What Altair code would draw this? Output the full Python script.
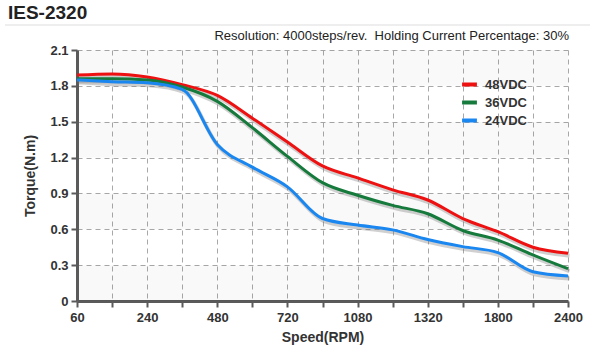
import altair as alt
import pandas as pd

# Speed tick positions (grid index) and labels
speed_labels = ["60", "", "240", "", "480", "", "720", "", "1080", "", "1320", "", "1800", "", "2400"]
idx = list(range(15))

v48 = [1.89, 1.90, 1.875, 1.81, 1.72, 1.53, 1.33, 1.13, 1.03, 0.93, 0.845, 0.69, 0.58, 0.45, 0.40]
v36 = [1.86, 1.86, 1.85, 1.79, 1.67, 1.45, 1.21, 0.99, 0.885, 0.80, 0.73, 0.59, 0.51, 0.385, 0.27]
v24 = [1.85, 1.835, 1.825, 1.77, 1.31, 1.12, 0.955, 0.69, 0.635, 0.595, 0.515, 0.455, 0.405, 0.245, 0.21]

series = ["48VDC", "36VDC", "24VDC"]
colors = ["#ee1111", "#167a3c", "#1a86f0"]

torque_ticks = [0, 0.3, 0.6, 0.9, 1.2, 1.5, 1.8, 2.1]
band_lo = [0.0, 0.6, 1.2, 1.8]

rows = []
for name, vals in zip(series, [v48, v36, v24]):
    for i, v in zip(idx, vals):
        rows.append({"idx": i, "torque": v, "series": name})
df = pd.DataFrame(rows)

bands = pd.DataFrame({"lo": band_lo, "hi": [b + 0.3 for b in band_lo]})

label_expr = "[" + ",".join("'%s'" % s for s in speed_labels) + "][datum.value]"

xscale = alt.Scale(domain=[0, 14], nice=False, zero=False)
yscale = alt.Scale(domain=[0, 2.1], nice=False)

base_font = "Liberation Sans"

xaxis = alt.Axis(
    values=idx, labelExpr=label_expr, title="Speed(RPM)",
    grid=True, gridDash=[5, 4], gridColor="#a8a8a8", gridWidth=1,
    domainColor="#5a5a5a", domainWidth=3, tickColor="#5a5a5a", tickWidth=2, tickSize=6,
    labelFont=base_font, labelFontSize=13, labelFontWeight="bold", labelColor="#333333",
    labelPadding=4, titleFont=base_font, titleFontSize=14, titleFontWeight="bold",
    titleColor="#333333", titlePadding=6, labelFlush=False, labelOverlap=False,
)
yaxis = alt.Axis(
    values=torque_ticks, labelExpr="datum.value == 0 ? '0' : format(datum.value, '.1f')",
    title="Torque(N.m)",
    grid=True, gridDash=[5, 4], gridColor="#a8a8a8", gridWidth=1,
    domainColor="#5a5a5a", domainWidth=3, tickColor="#5a5a5a", tickWidth=2, tickSize=6,
    labelFont=base_font, labelFontSize=13, labelFontWeight="bold", labelColor="#333333",
    labelPadding=3, titleFont=base_font, titleFontSize=14, titleFontWeight="bold",
    titleColor="#333333", titlePadding=12, labelOverlap=False, labelFlush=False,
)

band_layer = alt.Chart(bands).mark_rect(color="#000000", opacity=0.025).encode(
    x=alt.value(2), x2=alt.value(491),
    y=alt.Y("lo:Q", scale=yscale, axis=yaxis), y2="hi:Q",
)

shadow = alt.Chart(df).mark_line(
    interpolate="monotone", strokeWidth=4, color="#777777", opacity=0.35, xOffset=1.5, yOffset=2.5
).encode(
    x=alt.X("idx:Q", scale=xscale, axis=xaxis),
    y=alt.Y("torque:Q", scale=yscale, axis=yaxis),
    detail="series:N",
)

lines = alt.Chart(df).mark_line(interpolate="monotone", strokeWidth=3).encode(
    x=alt.X("idx:Q", scale=xscale, axis=xaxis),
    y=alt.Y("torque:Q", scale=yscale, axis=yaxis),
    color=alt.Color(
        "series:N",
        scale=alt.Scale(domain=series, range=colors),
        legend=alt.Legend(
            title=None, orient="none", legendX=383, legendY=25,
            symbolType="stroke", symbolStrokeWidth=4, symbolSize=220,
            labelFont=base_font, labelFontSize=13, labelFontWeight="bold", labelColor="#333333",
            rowPadding=0, labelOffset=6,
        ),
    ),
)

title_df = pd.DataFrame({"t": ["IES-2320"]})
title = alt.Chart(title_df).mark_text(
    align="left", baseline="middle", font=base_font, fontSize=19, fontWeight="bold", color="#222222"
).encode(x=alt.value(-69), y=alt.value(-37), text="t:N")

sub_df = pd.DataFrame({"t": ["Resolution: 4000steps/rev.\u00a0 Holding Current Percentage: 30%"]})
subtitle = alt.Chart(sub_df).mark_text(
    align="right", baseline="middle", font=base_font, fontSize=13, color="#222222"
).encode(x=alt.value(492), y=alt.value(-14), text="t:N")

sep = alt.Chart(title_df).mark_rule(color="#eeeeee", strokeWidth=2).encode(
    x=alt.value(-72), x2=alt.value(513), y=alt.value(-25)
)

chart = alt.layer(band_layer, shadow, lines, sep, title, subtitle).properties(
    width=491, height=251,
    padding={"left": 77, "top": 50, "right": 27, "bottom": 51},
    autosize=alt.AutoSizeParams(type="none"),
).configure_view(stroke=None)

chart.save("out.html", embed_options={"renderer": "svg", "actions": False})
